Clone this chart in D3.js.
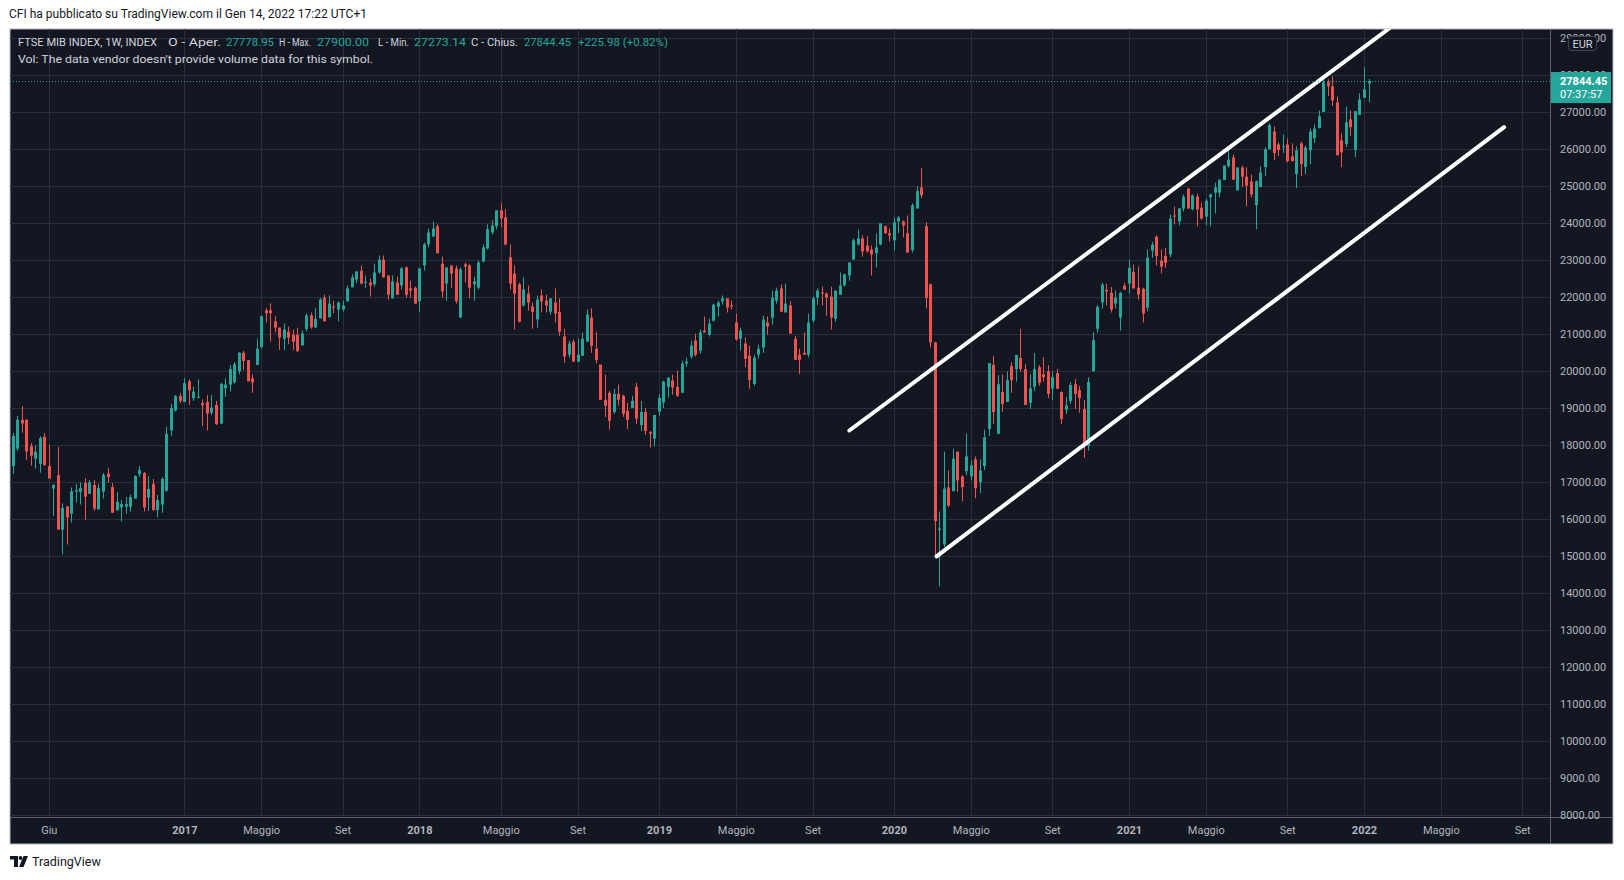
<!DOCTYPE html>
<html lang="it">
<head>
<meta charset="UTF-8">
<title>FTSE MIB INDEX, 1W</title>
<script src="https://d3js.org/d3.v7.min.js"></script>
<style>
	html, body { margin: 0; padding: 0; background: #ffffff; }
	svg { display: block; }
	text { font-family: Roboto, "Liberation Sans", sans-serif; }
</style>
</head>
<body>
<div id="chart"></div>
<script>
	// weekly candles, first bar = week of 11 Apr 2016
	const firstWeek = "2016-04-11";

	const open = [
		17440, 17910, 18690, 18690, 17980, 17640, 17500, 18230, 17440, 16830,
		17190, 15720, 16350, 16150, 16750, 16740, 16980, 16690, 16930, 16270,
		16750, 17230, 16870, 16250, 16320, 16340, 16340, 16560, 17220, 17250,
		16590, 16960, 16250, 16400, 16770, 18400, 18940, 19330, 19170, 19730,
		19270, 19290, 19140, 19170, 18880, 19090, 18590, 19540, 19640, 19700,
		20000, 20500, 20300, 19810, 20170, 20660, 21650, 21650, 21350, 21180,
		20880, 21070, 20990, 20990, 20700, 21140, 21510, 21190, 21430, 21990,
		21460, 21750, 21670, 21670, 21890, 22270, 22480, 22720, 22400, 22400,
		22350, 22670, 23020, 22590, 21970, 22400, 22320, 22810, 22240, 22260,
		21890, 22860, 23430, 23650, 23920, 22910, 22370, 22860, 22780, 21450,
		22890, 22860, 22350, 22260, 22970, 23320, 23750, 23920, 24350, 24160,
		23080, 22640, 22350, 21780, 22100, 21750, 21400, 22050, 21910, 21610,
		21860, 21610, 20940, 20450, 20800, 20260, 20420, 20800, 21450, 20610,
		20180, 19230, 19420, 18900, 19390, 19340, 18930, 19010, 19580, 18550,
		18900, 18350, 18180, 18910, 19160, 19580, 19750, 19580, 19420, 20210,
		20400, 20830, 20560, 21100, 20990, 21370, 21750, 21890, 21970, 21780,
		21320, 20880, 20750, 20420, 19660, 20450, 20640, 21320, 21450, 21910,
		22240, 21590, 21780, 20880, 20450, 20500, 20450, 21370, 21990, 22130,
		22100, 22020, 21420, 22070, 22320, 22590, 23020, 23430, 23590, 23400,
		23290, 23190, 23430, 23920, 23730, 23540, 24050, 24050, 23730, 23270,
		24400, 24970, 23920, 22350, 20780, 15710, 15320, 16860, 16760, 17830,
		17160, 17300, 17160, 17620, 17010, 17440, 18440, 20170, 18310, 19440,
		19170, 20140, 20060, 20360, 20060, 19150, 19580, 20110, 19920, 20000,
		19530, 19950, 19440, 18960, 19200, 19650, 19490, 18980, 17980, 20000,
		21150, 21860, 22200, 22120, 21830, 21450, 22310, 22370, 22690, 22260,
		22230, 21720, 23260, 23640, 22990, 23120, 23160, 24210, 24050, 24400,
		24940, 24380, 24720, 24420, 24180, 24700, 24830, 24830, 25170, 25540,
		25780, 24890, 25510, 25260, 25130, 24490, 24980, 25520, 26000, 26480,
		26130, 26060, 26130, 25810, 25330, 26160, 25520, 25980, 26300, 26570,
		27010, 27810, 27700, 27270, 26240, 26140, 26810, 25980, 26930, 27390, 27778.95
	];
	const high = [
		18340, 18790, 19060, 18700, 18060, 18000, 18250, 18330, 18010, 16950,
		17960, 16430, 16350, 16860, 16960, 17000, 17110, 17060, 17060, 16960,
		17250, 17390, 16980, 16740, 16520, 16600, 16670, 17190, 17440, 17280,
		17170, 17090, 16660, 17140, 18500, 19120, 19360, 19410, 19810, 19780,
		19590, 19780, 19240, 19360, 19360, 19200, 19690, 19810, 20170, 20250,
		20520, 20550, 20300, 19920, 20880, 21510, 21710, 21840, 21490, 21180,
		21290, 21210, 21130, 21180, 21100, 21560, 21590, 21700, 21980, 22070,
		22050, 21910, 21890, 21910, 22320, 22620, 22700, 22860, 22590, 22510,
		22910, 23130, 23130, 22590, 22590, 22560, 22810, 22830, 22450, 22290,
		22780, 23480, 23860, 24050, 23970, 23100, 22810, 22860, 22860, 22810,
		22940, 22890, 22560, 23000, 23430, 23970, 24080, 24350, 24540, 24380,
		23430, 22860, 22400, 22540, 22320, 21860, 22050, 22210, 22070, 21970,
		22240, 21970, 21150, 20830, 20860, 20880, 21050, 21670, 21700, 21070,
		20180, 19910, 19470, 19530, 19640, 19370, 19150, 19340, 19690, 19200,
		19010, 18390, 18820, 19390, 19750, 19830, 19910, 20020, 20290, 20370,
		20830, 21020, 21130, 21480, 21420, 21830, 21910, 22050, 21970, 21910,
		21560, 21180, 20910, 20690, 20450, 20720, 21500, 21480, 22180, 22260,
		22350, 22370, 21890, 20960, 20610, 21050, 21560, 22020, 22240, 22290,
		22130, 22290, 22180, 22670, 22640, 22940, 23590, 23830, 23670, 23650,
		23400, 23730, 24000, 23940, 23860, 24160, 24190, 24080, 24210, 24540,
		25000, 25490, 24030, 22370, 20800, 16210, 17830, 17320, 17910, 17830,
		17190, 18320, 17590, 17700, 17620, 18420, 20220, 20410, 19900, 19920,
		20000, 20250, 20440, 21140, 20190, 19920, 20490, 20170, 20380, 20170,
		20000, 20060, 19460, 19310, 19710, 19790, 19600, 19220, 19840, 21060,
		21790, 22390, 22370, 22280, 22180, 22150, 22390, 23020, 22880, 22830,
		22260, 23290, 23500, 23670, 23290, 23340, 24240, 24450, 24420, 24780,
		24940, 24780, 24800, 24560, 24670, 24800, 25100, 25180, 25560, 25970,
		25860, 25510, 25560, 25510, 25320, 25160, 25540, 26050, 26700, 26620,
		26190, 26400, 26290, 26160, 26080, 26210, 26100, 26560, 26670, 27050,
		27870, 27890, 27970, 27430, 26430, 27160, 27050, 27030, 27520, 28220, 27900
	];
	const low = [
		17230, 17850, 18340, 17610, 17450, 17370, 17260, 17440, 17100, 16090,
		15720, 15050, 15320, 15910, 16450, 16400, 15990, 16690, 16230, 16270,
		16560, 16990, 16180, 16230, 15940, 16150, 16210, 16560, 17140, 16210,
		16230, 16230, 16050, 16180, 16750, 18260, 18910, 19140, 19170, 19090,
		19200, 19270, 18520, 18400, 18820, 18550, 18570, 19310, 19450, 19670,
		19920, 20030, 19730, 19420, 20170, 20610, 21320, 20800, 21050, 20580,
		20580, 20740, 20580, 20520, 20700, 21080, 21150, 21170, 21430, 21350,
		21460, 21570, 21350, 21610, 21890, 22270, 22380, 22350, 22260, 22020,
		22290, 22640, 22540, 21940, 21970, 22070, 22210, 21990, 21990, 21830,
		21610, 22720, 23350, 23620, 23190, 21990, 21910, 22260, 21830, 21450,
		22400, 21970, 21910, 22210, 22940, 23290, 23700, 23840, 23890, 23400,
		22210, 21130, 21320, 21750, 21640, 21150, 21180, 21590, 21590, 21530,
		21320, 20960, 20230, 20370, 20260, 20260, 20420, 20800, 20500, 20210,
		19230, 18770, 18420, 18850, 19070, 18770, 18440, 19010, 18580, 18390,
		18280, 17940, 17970, 18800, 19010, 19290, 19370, 19310, 19420, 20120,
		20340, 20400, 20480, 21050, 20940, 21340, 21480, 21800, 21590, 21670,
		20830, 20560, 20120, 19530, 19610, 20340, 20500, 20990, 21260, 21830,
		21610, 21590, 21020, 20310, 19930, 20450, 20370, 21320, 21800, 21780,
		21500, 21130, 21340, 22070, 22290, 22450, 23020, 23400, 23100, 23210,
		22590, 22810, 23400, 23730, 23510, 23270, 23730, 23620, 23210, 23210,
		24400, 24680, 21700, 20650, 14980, 14190, 15250, 16330, 16760, 16740,
		16490, 17190, 17050, 16570, 16710, 17330, 18250, 18580, 18310, 18900,
		19170, 19420, 19720, 19990, 19090, 18980, 19470, 19610, 19720, 19280,
		19230, 19530, 18580, 18850, 19120, 18980, 18880, 17660, 17850, 19990,
		21040, 21700, 21780, 21590, 21700, 21100, 22210, 22100, 22240, 21940,
		21320, 21620, 23070, 22860, 22650, 22800, 23080, 23970, 23940, 24320,
		24400, 24350, 23920, 24100, 23940, 23920, 24270, 24700, 25170, 25510,
		25180, 24890, 24980, 24460, 24700, 23840, 24980, 25270, 26000, 25710,
		25820, 25900, 25650, 25680, 24950, 25270, 25330, 25600, 26170, 26570,
		27010, 27440, 27170, 25840, 25520, 26060, 26360, 25790, 26930, 27390, 27273.14
	];
	const close = [
		18250, 18690, 18590, 17830, 17720, 17830, 18200, 17470, 17100, 16930,
		15720, 16310, 16050, 16760, 16790, 16840, 16610, 17000, 16290, 16850,
		17200, 17140, 16180, 16470, 16410, 16410, 16600, 17170, 17330, 16320,
		16820, 16250, 16520, 17090, 18310, 19010, 19330, 19200, 19680, 19490,
		19450, 19310, 19080, 18860, 19020, 18570, 19660, 19640, 20060, 20190,
		20500, 20280, 19730, 19700, 20610, 21490, 21570, 21570, 21180, 20910,
		21130, 20910, 20800, 20550, 21020, 21510, 21190, 21420, 21940, 21350,
		21830, 21720, 21860, 21780, 22240, 22540, 22700, 22370, 22420, 22320,
		22670, 23020, 22540, 22070, 22430, 22070, 22780, 22070, 22180, 21830,
		22780, 23430, 23750, 23860, 23190, 22160, 22810, 22640, 21890, 22750,
		22830, 22260, 22430, 22940, 23350, 23840, 23940, 24350, 24130, 23430,
		22370, 22100, 21340, 22210, 21860, 21610, 21940, 21890, 21780, 21970,
		21560, 21070, 20400, 20750, 20260, 20450, 20880, 21530, 20690, 20310,
		19230, 19070, 18660, 19390, 19230, 18850, 18690, 19200, 18720, 18900,
		18390, 18310, 18820, 19280, 19720, 19830, 19560, 19340, 20210, 20260,
		20690, 20450, 21050, 21050, 21290, 21800, 21860, 21970, 21720, 21750,
		20860, 21100, 20340, 19770, 20370, 20610, 21400, 21210, 21990, 22180,
		21610, 21830, 21020, 20310, 20310, 20450, 21320, 21970, 22180, 22100,
		21990, 21450, 22180, 22320, 22620, 22940, 23540, 23590, 23240, 23240,
		23160, 23350, 24000, 23730, 23670, 24030, 24160, 23940, 23210, 24490,
		24870, 24760, 21980, 20780, 15950, 15750, 16830, 16370, 17640, 17050,
		16870, 17700, 17460, 16840, 17320, 18220, 20220, 18900, 19650, 19120,
		19760, 19760, 20440, 20060, 19090, 19540, 20060, 19690, 19840, 19390,
		19840, 19530, 18710, 19080, 19630, 19390, 19280, 17960, 19710, 20840,
		21740, 22340, 22160, 21670, 21990, 22120, 22210, 22800, 22240, 22080,
		21560, 23070, 23420, 23110, 22830, 22930, 24130, 24190, 24400, 24720,
		24400, 24750, 24370, 24130, 24610, 24780, 24970, 25180, 25560, 25720,
		25180, 25510, 25260, 25020, 24780, 25130, 25370, 26000, 26650, 25900,
		25980, 26080, 25680, 25680, 25970, 25600, 26050, 26480, 26560, 26890,
		27810, 27700, 27320, 25840, 25920, 26730, 26600, 27030, 27350, 27620, 27844.45
	];

	// axis labels
	const priceTicks = [8000, 9000, 10000, 11000, 12000, 13000, 14000, 15000, 16000, 17000, 18000,
		19000, 20000, 21000, 22000, 23000, 24000, 25000, 26000, 27000, 28000, 29000];
	const timeTickMonths = ["2016-06", "2017-01", "2017-05", "2017-09", "2018-01", "2018-05", "2018-09",
		"2019-01", "2019-05", "2019-09", "2020-01", "2020-05", "2020-09", "2021-01", "2021-05", "2021-09",
		"2022-01", "2022-05", "2022-09"];
	const timeTickLabels = ["Giu", "2017", "Maggio", "Set", "2018", "Maggio", "Set",
		"2019", "Maggio", "Set", "2020", "Maggio", "Set", "2021", "Maggio", "Set",
		"2022", "Maggio", "Set"];

	// parallel channel drawn on the chart: [date, price] anchors
	const channelLines = [
		[["2019-10-29", 18400], ["2022-03-07", 29580]],
		[["2020-03-12", 15000], ["2022-08-08", 26600]]
	];

	// legend pieces: text, x, width, colour
	const legendParts = [
		["FTSE MIB INDEX, 1W, INDEX", 18, 139, "#d1d4dc"],
		["O - Aper.", 168, 53, "#d1d4dc"], ["27778.95", 226, 48, "#26a69a"],
		["H - Max.", 279, 32, "#d1d4dc"], ["27900.00", 317, 52, "#26a69a"],
		["L - Min.", 378, 31, "#d1d4dc"], ["27273.14", 414, 52, "#26a69a"],
		["C - Chius.", 471, 47, "#d1d4dc"], ["27844.45", 524, 47, "#26a69a"],
		["+225.98 (+0.82%)", 578, 90, "#26a69a"]
	];

	const colors = { bg: "#131722", grid: "#2a2e39", text: "#b2b5be", up: "#26a69a", down: "#ef5350" };

	const sizeX = 1624, sizeY = 880;
	const plot = { left: 10, top: 29, right: 1550, bottom: 817 };
	const frame = { left: 10, top: 29, right: 1613, bottom: 844 };

	const parseDay = d3.utcParse("%Y-%m-%d");
	const start = parseDay(firstWeek);
	const bars = close.map((c, i) => ({
		date: d3.utcMonday.offset(start, i), o: open[i], h: high[i], l: low[i], c: c
	}));

	const x = d3.scaleUtc()
		.domain([bars[0].date, bars[bars.length - 1].date])
		.range([12.6, 1368.5]);
	const y = d3.scaleLinear()
		.domain([8000, 24000])
		.range([815.3, 223.3]);

	const svg = d3.create("svg")
		.attr("width", sizeX)
		.attr("height", sizeY);

	svg.append("rect").attr("width", sizeX).attr("height", sizeY).attr("fill", "#ffffff");

	// header above the chart
	svg.append("text")
		.attr("x", 9).attr("y", 18)
		.attr("font-size", 12).attr("fill", "#131722")
		.attr("textLength", 358).attr("lengthAdjust", "spacingAndGlyphs")
		.text("CFI ha pubblicato su TradingView.com il Gen 14, 2022 17:22 UTC+1");

	// chart frame
	svg.append("rect")
		.attr("x", frame.left).attr("y", frame.top)
		.attr("width", frame.right - frame.left).attr("height", frame.bottom - frame.top)
		.attr("fill", colors.bg)
		.attr("stroke", "#b8bac0").attr("stroke-width", 1);

	svg.append("defs").append("clipPath").attr("id", "plotClip")
		.append("rect")
		.attr("x", plot.left).attr("y", plot.top)
		.attr("width", plot.right - plot.left).attr("height", plot.bottom - plot.top);

	const tickDates = timeTickMonths.map(m => d3.utcMonday.ceil(d3.utcParse("%Y-%m")(m)));

	// grid
	const grid = svg.append("g").attr("clip-path", "url(#plotClip)");
	grid.selectAll("line.v").data(tickDates).join("line")
		.attr("x1", d => Math.round(x(d)) + 0.5).attr("x2", d => Math.round(x(d)) + 0.5)
		.attr("y1", plot.top).attr("y2", plot.bottom)
		.attr("stroke", colors.grid).attr("stroke-width", 1);
	grid.selectAll("line.h").data(priceTicks).join("line")
		.attr("x1", plot.left).attr("x2", plot.right)
		.attr("y1", d => Math.round(y(d)) + 0.5).attr("y2", d => Math.round(y(d)) + 0.5)
		.attr("stroke", colors.grid).attr("stroke-width", 1);

	// candles
	const candles = svg.append("g").attr("clip-path", "url(#plotClip)");
	const cg = candles.selectAll("g").data(bars).join("g")
		.attr("fill", d => d.c >= d.o ? colors.up : colors.down);
	cg.append("rect")
		.attr("x", d => Math.round(x(d.date)))
		.attr("y", d => y(d.h))
		.attr("width", 1)
		.attr("height", d => Math.max(1, y(d.l) - y(d.h)));
	cg.append("rect")
		.attr("x", d => Math.round(x(d.date)) - 1)
		.attr("y", d => y(Math.max(d.o, d.c)))
		.attr("width", 3)
		.attr("height", d => Math.max(1, Math.abs(y(d.o) - y(d.c))));

	// channel lines
	const line = d3.line().x(d => x(parseDay(d[0]))).y(d => y(d[1]));
	candles.selectAll("path.channel").data(channelLines).join("path")
		.attr("d", line)
		.attr("fill", "none")
		.attr("stroke", "#ffffff")
		.attr("stroke-width", 4)
		.attr("stroke-linecap", "round");

	// last price dotted line
	const last = bars[bars.length - 1];
	svg.append("line")
		.attr("x1", plot.left).attr("x2", plot.right)
		.attr("y1", Math.round(y(last.c)) + 0.5).attr("y2", Math.round(y(last.c)) + 0.5)
		.attr("stroke", colors.up).attr("stroke-width", 1)
		.attr("stroke-dasharray", "1,2");

	// separators for the axes panels
	svg.append("line")
		.attr("x1", plot.right + 0.5).attr("x2", plot.right + 0.5)
		.attr("y1", frame.top).attr("y2", frame.bottom)
		.attr("stroke", "#5d606b");
	svg.append("line")
		.attr("x1", frame.left).attr("x2", frame.right)
		.attr("y1", plot.bottom + 0.5).attr("y2", plot.bottom + 0.5)
		.attr("stroke", "#5d606b");

	// price axis
	const yAxis = svg.append("g")
		.attr("transform", `translate(${plot.right},0)`)
		.call(d3.axisRight(y).tickValues(priceTicks).tickFormat(d3.format(".2f")).tickSize(0).tickPadding(10));
	yAxis.select(".domain").remove();
	yAxis.selectAll("text")
		.attr("fill", colors.text)
		.style("font-size", "11px")
		.style("font-family", "Roboto, sans-serif");

	// time axis
	const xAxis = svg.append("g")
		.attr("transform", `translate(0,${plot.bottom})`)
		.call(d3.axisBottom(x).tickValues(tickDates)
			.tickFormat((d, i) => timeTickLabels[i]).tickSize(0).tickPadding(9));
	xAxis.select(".domain").remove();
	xAxis.selectAll("text")
		.attr("fill", colors.text)
		.style("font-size", "11px")
		.style("font-family", "Roboto, sans-serif")
		.style("font-weight", (d, i) => /^\d{4}$/.test(timeTickLabels[i]) ? "bold" : "normal");

	// last price label
	const ly = y(last.c);
	svg.append("rect")
		.attr("x", plot.right + 1).attr("y", ly - 9)
		.attr("width", 60).attr("height", 31)
		.attr("fill", colors.up);
	svg.append("text")
		.attr("x", 1560).attr("y", ly + 4)
		.attr("font-size", 11).attr("font-weight", "bold").attr("fill", "#ffffff")
		.text(d3.format(".2f")(last.c));
	svg.append("text")
		.attr("x", 1560).attr("y", ly + 17)
		.attr("font-size", 11).attr("fill", "#ffffff")
		.text("07:37:57");

	// currency badge
	svg.append("rect")
		.attr("x", 1568.5).attr("y", 36.5)
		.attr("width", 28).attr("height", 14).attr("rx", 3)
		.attr("fill", colors.bg).attr("stroke", "#434651");
	svg.append("text")
		.attr("x", 1582.5).attr("y", 47.5)
		.attr("text-anchor", "middle")
		.attr("font-size", 11).attr("fill", "#d1d4dc")
		.text("EUR");

	// legend
	const legend = svg.append("g").attr("font-size", 11.5);
	legendParts.forEach(p => {
		legend.append("text")
			.attr("x", p[1]).attr("y", 46)
			.attr("textLength", p[2]).attr("lengthAdjust", "spacingAndGlyphs")
			.attr("fill", p[3])
			.text(p[0]);
	});
	legend.append("text")
		.attr("x", 18).attr("y", 63)
		.attr("textLength", 355).attr("lengthAdjust", "spacingAndGlyphs")
		.attr("fill", "#d1d4dc")
		.text("Vol: The data vendor doesn't provide volume data for this symbol.");

	// TradingView mark
	const logo = svg.append("g").attr("fill", "#131722");
	logo.append("path").attr("d", "M10,856 L18,856 L18,867 L14,867 L14,859.5 L10,859.5 Z");
	logo.append("circle").attr("cx", 20.5).attr("cy", 858).attr("r", 1.9);
	logo.append("path").attr("d", "M23.5,856 L28,856 L23.5,867 L19,867 Z");
	svg.append("text")
		.attr("x", 32).attr("y", 866)
		.attr("font-size", 12.5).attr("fill", "#131722")
		.text("TradingView");

	document.getElementById("chart").append(svg.node());
</script>
</body>
</html>
